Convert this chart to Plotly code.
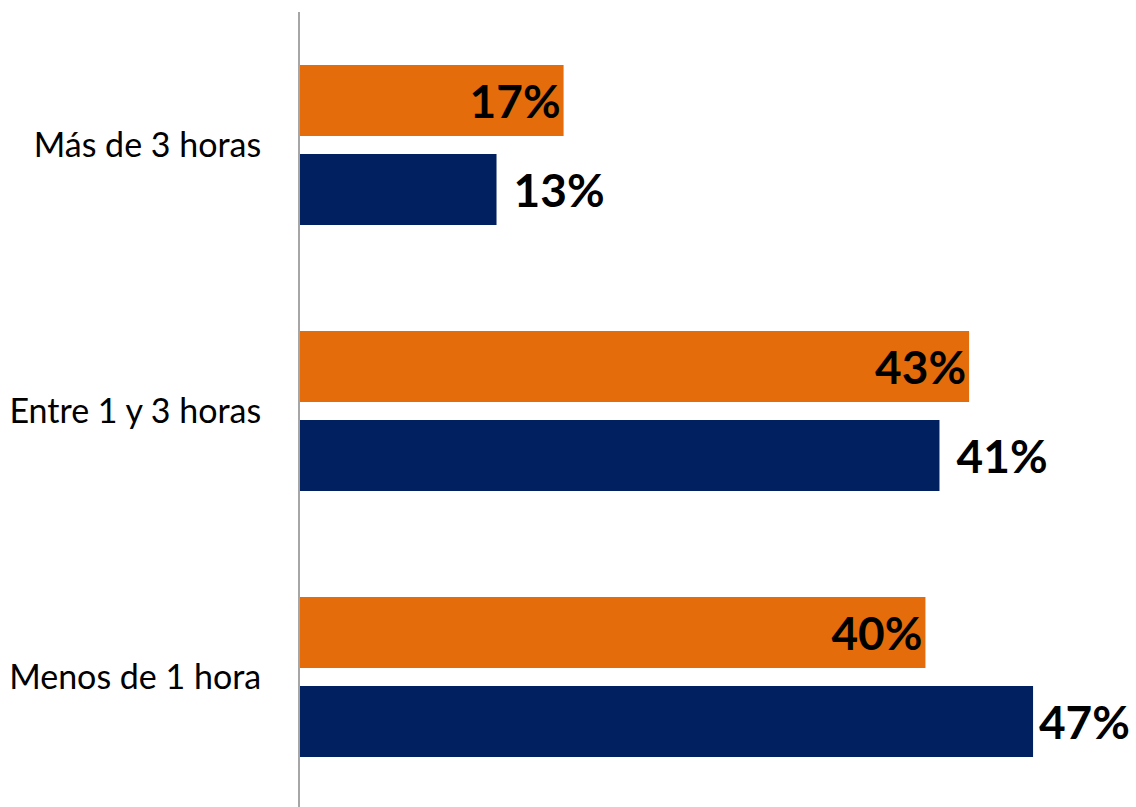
import plotly.graph_objects as go

categories = ["Más de 3 horas", "Entre 1 y 3 horas", "Menos de 1 hora"]
orange_values = [16.9, 42.9, 40.1]
navy_values = [12.6, 41.0, 47.0]
orange_labels = ["17%", "43%", "40%"]
navy_labels = ["13%", "41%", "47%"]

# small leading gap before the outside labels (less for the last, which sits at the edge)
navy_gaps = ["\u00a0\u200a", "\u00a0\u200a", "\u200a"]

fig = go.Figure()
fig.add_trace(go.Bar(
    y=categories, x=orange_values, orientation="h",
    marker=dict(color="#E46C0A", line=dict(width=0)),
    text=orange_labels, textposition="inside", insidetextanchor="end",
    textfont=dict(family="Lato", size=46, color="#000000", weight="bold"),
    cliponaxis=False, hoverinfo="skip",
))
fig.add_trace(go.Bar(
    y=categories, x=navy_values, orientation="h",
    marker=dict(color="#002060", line=dict(width=0)),
    text=[g + t for g, t in zip(navy_gaps, navy_labels)], textposition="outside",
    textfont=dict(family="Lato", size=46, color="#000000", weight="bold"),
    cliponaxis=False, hoverinfo="skip",
))

fig.update_layout(
    width=1136, height=807,
    margin=dict(l=300, r=0, t=12, b=0),
    barmode="group", bargap=0.331, bargroupgap=0.202,
    showlegend=False,
    plot_bgcolor="white", paper_bgcolor="white",
)
fig.update_xaxes(range=[0, 53.6], visible=False, showgrid=False, zeroline=False)
fig.update_yaxes(
    type="category", categoryorder="array", categoryarray=categories,
    range=[2.4887, -0.5],
    showline=True, linecolor="#A6A6A6", linewidth=2,
    showgrid=False, zeroline=False, ticks="",
    ticklabelstandoff=30,
    tickfont=dict(family="Lato", size=34, color="#000000"),
)

fig.write_html("out.html")
